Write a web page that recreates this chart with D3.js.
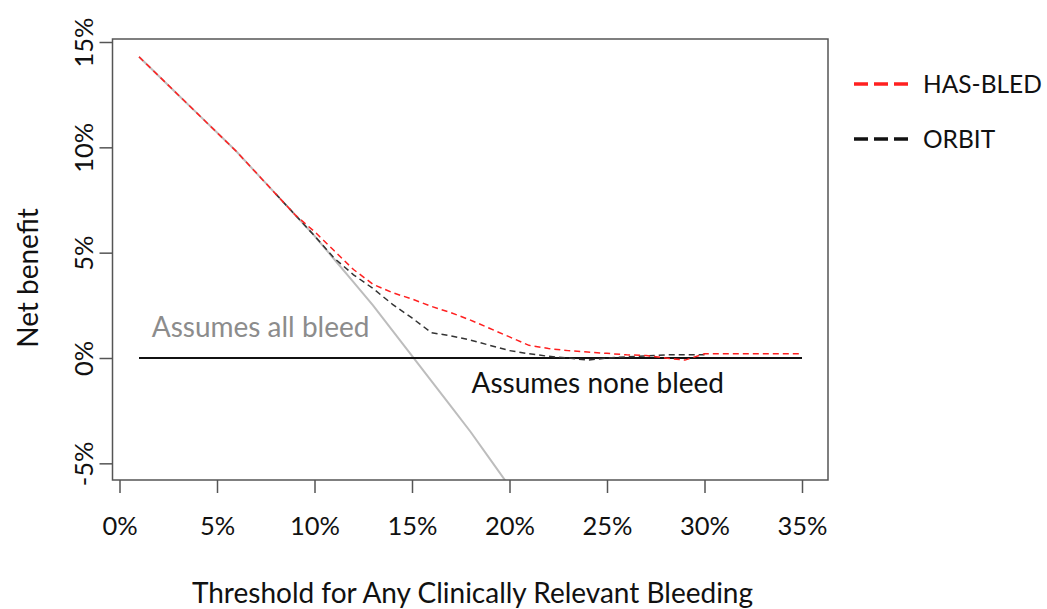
<!DOCTYPE html>
<html lang="en">
<head>
<meta charset="utf-8">
<title>Net benefit</title>
<script src="https://d3js.org/d3.v7.min.js"></script>
<style>
  body { margin: 0; background: white; }
  text { font-family: Lato, "Open Sans", sans-serif; }
</style>
</head>
<body>
<script>
// thresholds (%) and net benefit (%)
var allX = [1, 2, 3, 4, 5, 6, 7, 8, 9, 10, 11, 12, 13, 14, 15, 16, 17, 18, 19, 20];
var allY = [14.3, 13.4, 12.5, 11.6, 10.7, 9.8, 8.8, 7.8, 6.8, 5.8, 4.7, 3.6, 2.5, 1.3, 0.1, -1.1, -2.3, -3.5, -4.8, -6.1];

var hasX = [1, 2, 3, 4, 5, 6, 7, 8, 9, 10, 11, 12, 13, 14, 15, 16, 17, 18, 19, 20, 21, 22, 23, 24, 25, 26, 27, 28, 29, 30, 31, 32, 33, 34, 35];
var hasY = [14.3, 13.4, 12.5, 11.6, 10.7, 9.8, 8.8, 7.8, 6.8, 6.0, 5.1, 4.2, 3.5, 3.1, 2.8, 2.45, 2.15, 1.8, 1.4, 1.0, 0.6, 0.45, 0.35, 0.28, 0.22, 0.15, 0.12, 0.0, -0.1, 0.2, 0.2, 0.2, 0.2, 0.2, 0.2];

var orbX = [8, 9, 10, 11, 12, 13, 14, 15, 16, 17, 18, 19, 20, 21, 22, 23, 24, 25, 26, 27, 28, 29, 30];
var orbY = [7.8, 6.8, 5.8, 4.75, 3.95, 3.3, 2.55, 1.9, 1.2, 1.05, 0.85, 0.6, 0.35, 0.2, 0.08, 0.0, -0.1, 0.0, 0.05, 0.1, 0.15, 0.15, 0.15];

var noneX = [1, 35];
var noneY = [0, 0];

var xTicks = [0, 5, 10, 15, 20, 25, 30, 35];
var yTicks = [-5, 0, 5, 10, 15];

var w = 1047, h = 609;
var pLeft = 112.5, pRight = 828, pTop = 39, pBottom = 480;

var x = d3.scaleLinear().domain([0, 35]).range([119.5, 802]);
var y = d3.scaleLinear().domain([0, 15]).range([358, 42]);

var svg = d3.select("body").append("svg").attr("width", w).attr("height", h);

svg.append("defs").append("clipPath").attr("id", "plotclip")
  .append("rect").attr("x", pLeft).attr("y", pTop).attr("width", pRight - pLeft).attr("height", pBottom - pTop);

var line = d3.line().x(function(d) { return x(d[0]); }).y(function(d) { return y(d[1]); });
function pts(xs, ys) { return xs.map(function(v, i) { return [v, ys[i]]; }); }

var plot = svg.append("g").attr("clip-path", "url(#plotclip)");

// assumes all bleed
plot.append("path").attr("d", line(pts(allX, allY)))
  .attr("fill", "none").attr("stroke", "#bdbdbd").attr("stroke-width", 2);

// assumes none bleed
plot.append("path").attr("d", line(pts(noneX, noneY)))
  .attr("fill", "none").attr("stroke", "#111").attr("stroke-width", 2);

// ORBIT
plot.append("path").attr("d", line(pts(orbX, orbY)))
  .attr("fill", "none").attr("stroke", "#333").attr("stroke-width", 1.5)
  .attr("stroke-dasharray", "6,4");

// HAS-BLED
plot.append("path").attr("d", line(pts(hasX, hasY)))
  .attr("fill", "none").attr("stroke", "#ff2020").attr("stroke-width", 1.5)
  .attr("stroke-dasharray", "6,4");

// frame
svg.append("rect").attr("x", pLeft).attr("y", pTop).attr("width", pRight - pLeft).attr("height", pBottom - pTop)
  .attr("fill", "none").attr("stroke", "#555").attr("stroke-width", 1.5);

// x axis
var xAxis = d3.axisBottom(x).tickValues(xTicks).tickSize(13).tickPadding(24)
  .tickFormat(function(d) { return d + "%"; });
var gx = svg.append("g").attr("transform", "translate(0," + pBottom + ")").call(xAxis);
gx.select(".domain").remove();
gx.selectAll(".tick line").attr("stroke", "#555").attr("stroke-width", 1.5);
gx.selectAll(".tick text").attr("font-size", 25.5).attr("fill", "#111")
  .style("font-family", "Lato, sans-serif");

// y axis
var yAxis = d3.axisLeft(y).tickValues(yTicks).tickSize(13).tickFormat(function(d) { return d + "%"; });
var gy = svg.append("g").attr("transform", "translate(" + pLeft + ",0)").call(yAxis);
gy.select(".domain").remove();
gy.selectAll(".tick line").attr("stroke", "#555").attr("stroke-width", 1.5);
gy.selectAll(".tick text").remove();
gy.selectAll(".tick").append("text")
  .attr("transform", "translate(-20,0) rotate(-90)")
  .attr("text-anchor", "middle")
  .attr("font-size", 25.5).attr("fill", "#111")
  .style("font-family", "Lato, sans-serif")
  .text(function(d) { return d + "%"; });

// axis titles
svg.append("text").attr("x", (193 + 752) / 2).attr("y", 603).attr("text-anchor", "middle")
  .attr("font-size", 28).attr("fill", "#111").text("Threshold for Any Clinically Relevant Bleeding");
svg.append("text").attr("transform", "translate(38,278) rotate(-90)").attr("text-anchor", "middle")
  .attr("font-size", 28).attr("fill", "#111").text("Net benefit");

// annotations
svg.append("text").attr("x", x(1.65)).attr("y", y(1.0)).attr("font-size", 28).attr("fill", "#8c8c8c")
  .text("Assumes all bleed");
svg.append("text").attr("x", x(18.05)).attr("y", y(-1.65)).attr("font-size", 28).attr("fill", "#111")
  .text("Assumes none bleed");

// legend
var legend = [
  { name: "HAS-BLED", color: "#ff2020", y: 84 },
  { name: "ORBIT", color: "#111", y: 139 }
];
var lg = svg.append("g").selectAll("g").data(legend).enter().append("g");
lg.append("line").attr("x1", 854).attr("x2", 909).attr("y1", function(d) { return d.y; }).attr("y2", function(d) { return d.y; })
  .attr("stroke", function(d) { return d.color; }).attr("stroke-width", 3.5).attr("stroke-dasharray", "14,6");
lg.append("text").attr("x", 923).attr("y", function(d) { return d.y; }).attr("dy", "0.35em")
  .attr("font-size", 24.5).attr("fill", "#111").text(function(d) { return d.name; });
</script>
</body>
</html>
